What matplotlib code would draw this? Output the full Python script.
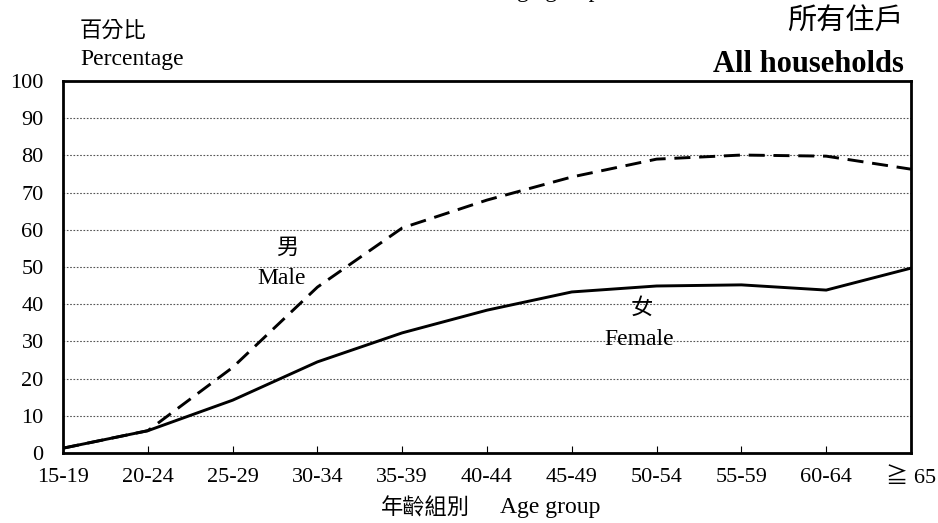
import numpy as np
import matplotlib.pyplot as plt

plt.rcParams['font.family'] = ['Liberation Serif', 'Noto Sans CJK TC']

age_groups = ['15-19', '20-24', '25-29', '30-34', '35-39', '40-44',
              '45-49', '50-54', '55-59', '60-64', '≧ 65']
male = [1.3, 6.0, 23.0, 44.6, 60.5, 68.0, 74.2, 79.0, 80.1, 79.8, 76.3]
female = [1.3, 6.0, 14.2, 24.5, 32.3, 38.4, 43.3, 44.9, 45.2, 43.8, 49.7]

cjk = ['Noto Sans CJK TC', 'DejaVu Sans']

fig = plt.figure(figsize=(9.38, 5.23), dpi=100)
ax = fig.add_axes([0.0672, 0.1338, 0.904, 0.7113])

x = np.arange(len(age_groups))
ax.plot(x, male, color='black', lw=2.1, dashes=(5.5, 3))
ax.plot(x, female, color='black', lw=2.1)

ax.set_xlim(0, len(age_groups) - 1)
ax.set_ylim(0, 100)
ax.set_yticks(np.arange(0, 101, 10))
ax.set_xticks(x)
ax.set_xticklabels(age_groups)
ax.tick_params(axis='x', direction='in', length=5, width=0.8, pad=11, labelsize=16)
ax.tick_params(axis='y', length=0, pad=14, labelsize=16)
ax.grid(axis='y', color='#555555', linestyle=(0, (1.5, 1.5)), lw=0.8)
for s in ax.spines.values():
    s.set_linewidth(2)

# labels on the lines
ax.text(2.64, 55.4, '男', family=cjk, fontsize=16, ha='center', va='center')
ax.text(2.58, 47.0, 'Male', fontsize=17, ha='center', va='center')
ax.text(6.83, 39.2, '女', family=cjk, fontsize=16, ha='center', va='center')
ax.text(6.80, 30.4, 'Female', fontsize=17, ha='center', va='center')

# headings
fig.text(80 / 938, 1 - 30 / 523, '百分比', family=cjk, fontsize=16, va='center')
fig.text(80 / 938, 1 - 60 / 523, 'Percentage', fontsize=17, va='center')
fig.text(904 / 938, 1 - 22 / 523, '所有住戶', family=cjk, fontsize=21, ha='right', va='center')
fig.text(904 / 938, 1 - 65 / 523, 'All households', fontsize=22, weight='bold',
         ha='right', va='center')

fig.text(470 / 938, 1 - 508 / 523, '年齡組別', family=cjk, fontsize=16,
         ha='right', va='center')
fig.text(500 / 938, 1 - 508 / 523, 'Age group', fontsize=17, va='center')

# cut-off caption from above
fig.text(470 / 938, 1 + 2.5 / 523, '年齡組別', family=cjk, fontsize=16,
         ha='right', va='baseline')
fig.text(500 / 938, 1 + 2.5 / 523, 'Age group', fontsize=17, va='baseline')

fig.savefig('out.png', dpi=100)
